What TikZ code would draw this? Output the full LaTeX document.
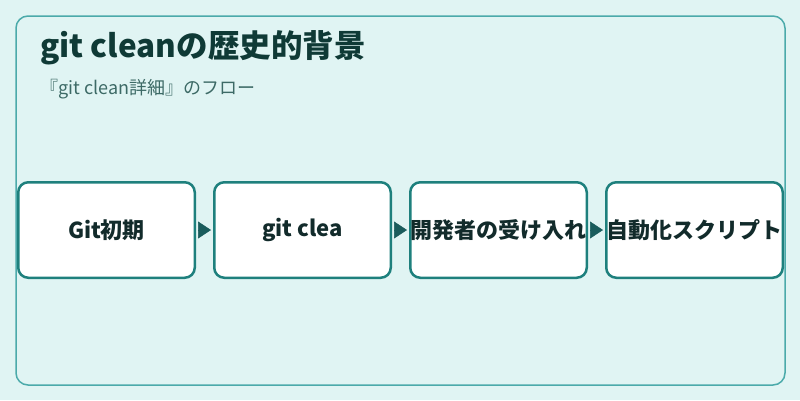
\documentclass[tikz,border=0pt]{standalone}
\usepackage{fontspec}
\setmainfont{Noto Sans CJK JP}
\usetikzlibrary{arrows.meta, positioning}
\definecolor{bg}{HTML}{E0F4F3}
\definecolor{frame}{HTML}{4BAAAA}
\definecolor{stepline}{HTML}{1E807D}
\definecolor{tip}{HTML}{1A5C5C}
\definecolor{titletext}{HTML}{0F3A36}
\definecolor{subtext}{HTML}{3D6A66}
\definecolor{boxtext}{HTML}{122B2B}

\begin{document}
\begin{tikzpicture}[
    x=1pt, y=-1pt,
    stepbox/.style={draw=stepline, fill=white, rounded corners=10pt, line width=2.5pt,
                    minimum width=176.5pt, minimum height=95.5pt, inner sep=0pt,
                    font=\fontsize{22}{26}\selectfont\bfseries, text=boxtext},
    flow/.style={-{Triangle[length=13pt, width=17pt]}, line width=0.5pt, color=tip,
                 shorten <=2pt, shorten >=2pt},
]
    % Canvas and frame
    \fill[bg] (0,0) rectangle (800,400);
    \useasboundingbox (0,0) rectangle (800,400);
    \draw[frame, line width=1.5pt, rounded corners=12pt] (16,16) rectangle (785,385);

    % Heading
    \node[anchor=west, font=\fontsize{31.5}{36}\selectfont\bfseries, text=titletext,
          inner sep=0pt] (title) at (40,48) {git cleanの歴史的背景};
    \node[anchor=west, font=\fontsize{18}{21}\selectfont, text=subtext,
          inner sep=0pt] (subtitle) at (40,89.5) {『git clean詳細』のフロー};

    % Steps
    \node[stepbox] (origin) at (106.5,230) {Git初期};
    \node[stepbox, right=17pt of origin] (clean) {git clea};
    \node[stepbox, right=17pt of clean] (adopt) {開発者の受け入れ};
    \node[stepbox, right=17pt of adopt] (script) {自動化スクリプト};

    % Arrows
    \draw[flow] (origin) -- (clean);
    \draw[flow] (clean) -- (adopt);
    \draw[flow] (adopt) -- (script);
\end{tikzpicture}
\end{document}
